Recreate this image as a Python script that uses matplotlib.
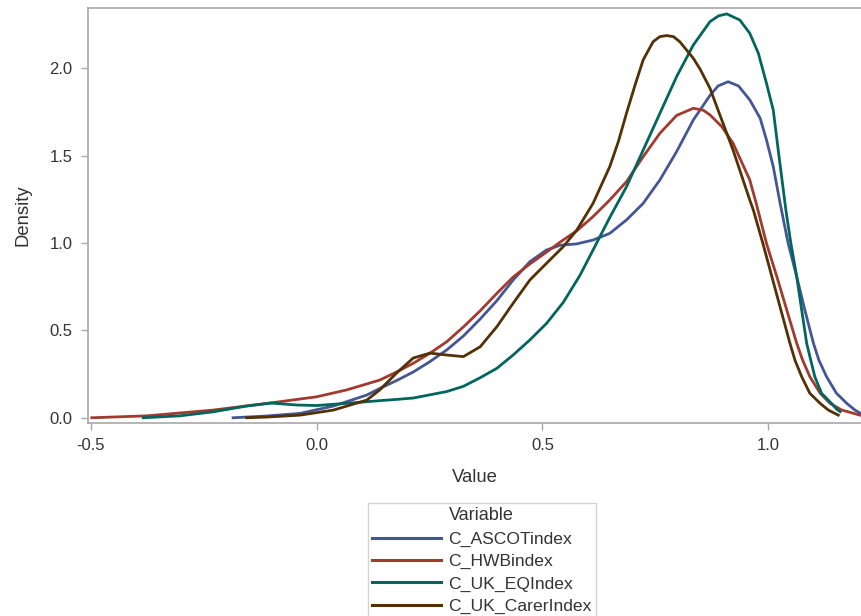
import matplotlib.pyplot as plt
from matplotlib.lines import Line2D

plt.rcParams['font.family'] = ['Liberation Sans', 'DejaVu Sans']

# 各變數的密度曲線
variables = ['C_ASCOTindex', 'C_HWBindex', 'C_UK_EQIndex', 'C_UK_CarerIndex']
colors = ['#445694', '#A23A2E', '#01665E', '#543005']

ascot_x = [-0.185, -0.111, -0.037, 0.037, 0.111, 0.140, 0.177, 0.214, 0.250, 0.288,
           0.325, 0.362, 0.399, 0.435, 0.472, 0.509, 0.539, 0.576, 0.612, 0.649,
           0.686, 0.723, 0.760, 0.797, 0.834, 0.871, 0.889, 0.911, 0.934, 0.959,
           0.982, 0.996, 1.011, 1.026, 1.044, 1.063, 1.081, 1.100, 1.112, 1.129,
           1.151, 1.174, 1.192, 1.207]
ascot_y = [0.0, 0.010, 0.025, 0.067, 0.130, 0.168, 0.213, 0.262, 0.320, 0.388,
           0.468, 0.565, 0.670, 0.788, 0.893, 0.960, 0.987, 0.995, 1.017, 1.055,
           1.132, 1.227, 1.361, 1.523, 1.704, 1.845, 1.899, 1.923, 1.899, 1.819,
           1.714, 1.590, 1.437, 1.230, 0.998, 0.807, 0.616, 0.426, 0.330, 0.235,
           0.140, 0.082, 0.044, 0.021]

hwb_x = [-0.498, -0.376, -0.229, -0.081, 0.0, 0.066, 0.140, 0.177, 0.214, 0.250,
         0.288, 0.325, 0.362, 0.399, 0.435, 0.472, 0.509, 0.539, 0.576, 0.612,
         0.649, 0.686, 0.723, 0.760, 0.797, 0.834, 0.856, 0.871, 0.897, 0.922,
         0.959, 0.974, 0.996, 1.019, 1.041, 1.063, 1.076, 1.092, 1.115, 1.137,
         1.163, 1.203]
hwb_y = [0.0, 0.011, 0.044, 0.092, 0.120, 0.159, 0.216, 0.262, 0.312, 0.368,
         0.435, 0.520, 0.612, 0.712, 0.805, 0.880, 0.948, 1.005, 1.070, 1.151,
         1.246, 1.351, 1.494, 1.628, 1.730, 1.771, 1.760, 1.733, 1.666, 1.571,
         1.361, 1.220, 0.998, 0.807, 0.616, 0.426, 0.330, 0.235, 0.140, 0.082,
         0.044, 0.015]

eq_x = [-0.384, -0.303, -0.229, -0.155, -0.100, -0.044, 0.0, 0.074, 0.140, 0.177,
        0.214, 0.288, 0.325, 0.362, 0.399, 0.435, 0.472, 0.509, 0.546, 0.583,
        0.612, 0.649, 0.686, 0.723, 0.760, 0.797, 0.834, 0.871, 0.890, 0.908,
        0.937, 0.959, 0.978, 0.996, 1.011, 1.022, 1.039, 1.050, 1.063, 1.074,
        1.085, 1.094, 1.103, 1.118, 1.140, 1.151, 1.159]
eq_y = [0.0, 0.011, 0.034, 0.067, 0.084, 0.073, 0.070, 0.084, 0.098, 0.105,
        0.113, 0.150, 0.180, 0.229, 0.283, 0.359, 0.445, 0.540, 0.660, 0.815,
        0.960, 1.146, 1.322, 1.532, 1.742, 1.952, 2.133, 2.267, 2.300, 2.311,
        2.276, 2.200, 2.086, 1.914, 1.761, 1.532, 1.188, 0.998, 0.807, 0.616,
        0.426, 0.330, 0.235, 0.140, 0.082, 0.050, 0.035]

carer_x = [-0.155, -0.111, -0.037, 0.037, 0.111, 0.140, 0.177, 0.214, 0.251, 0.288,
           0.325, 0.362, 0.399, 0.435, 0.472, 0.509, 0.546, 0.576, 0.612, 0.649,
           0.668, 0.686, 0.705, 0.723, 0.745, 0.760, 0.775, 0.790, 0.804, 0.834,
           0.849, 0.871, 0.886, 0.922, 0.959, 0.967, 0.988, 1.008, 1.028, 1.048,
           1.059, 1.074, 1.092, 1.115, 1.133, 1.155]
carer_y = [0.0, 0.004, 0.015, 0.044, 0.101, 0.160, 0.256, 0.342, 0.370, 0.359,
           0.350, 0.406, 0.521, 0.655, 0.788, 0.884, 0.979, 1.074, 1.227, 1.437,
           1.580, 1.742, 1.904, 2.048, 2.152, 2.181, 2.187, 2.181, 2.152, 2.057,
           1.995, 1.885, 1.780, 1.532, 1.246, 1.188, 0.998, 0.807, 0.616, 0.426,
           0.330, 0.235, 0.140, 0.082, 0.044, 0.015]

series_x = [ascot_x, hwb_x, eq_x, carer_x]
series_y = [ascot_y, hwb_y, eq_y, carer_y]

x_ticks = [-0.5, 0.0, 0.5, 1.0]
y_ticks = [0.0, 0.5, 1.0, 1.5, 2.0]

fig = plt.figure(figsize=(8.62, 6.16), dpi=100)
ax = fig.add_axes([0.1017, 0.3133, 0.8983, 0.6732])

for xs, ys, c in zip(series_x, series_y, colors):
    ax.plot(xs, ys, color=c, linewidth=2.0, solid_joinstyle='round')

ax.set_xlim(-0.507, 1.2075)
ax.set_ylim(-0.030, 2.343)
ax.set_xticks(x_ticks)
ax.set_xticklabels([f'{v:.1f}' for v in x_ticks])
ax.set_yticks(y_ticks)
ax.set_yticklabels([f'{v:.1f}' for v in y_ticks])

# 灰色框線與刻度
frame = '#A8A8A8'
for side in ['left', 'top', 'bottom']:
    ax.spines[side].set_color(frame)
    ax.spines[side].set_linewidth(1.2)
ax.spines['right'].set_visible(False)
ax.tick_params(axis='both', direction='out', length=5, width=1.0, color=frame,
               labelsize=12, labelcolor='#333333', pad=6)

ax.set_xlabel('Value', fontsize=13.3, color='#333333', labelpad=11)
ax.set_ylabel('Density', fontsize=13.3, color='#333333', labelpad=13)

# 圖例 (第一列當作標題)
handles = [Line2D([], [], color='none')]
labels = ['Variable']
for v, c in zip(variables, colors):
    handles.append(Line2D([], [], color=c, linewidth=2.2))
    labels.append(v)
leg = fig.legend(handles, labels, loc='upper left', bbox_to_anchor=(368 / 862, 1 - 503 / 616),
                 borderaxespad=0, fontsize=12.6, frameon=True, fancybox=False,
                 handlelength=3.9, handletextpad=0.45, labelspacing=0.40, borderpad=0.25)
leg.get_frame().set_edgecolor('#C8C8C8')
leg.get_frame().set_linewidth(1.0)
for t in leg.get_texts():
    t.set_color('#333333')
leg.get_texts()[0].set_fontsize(13)

fig.savefig('out.png', dpi=100)
